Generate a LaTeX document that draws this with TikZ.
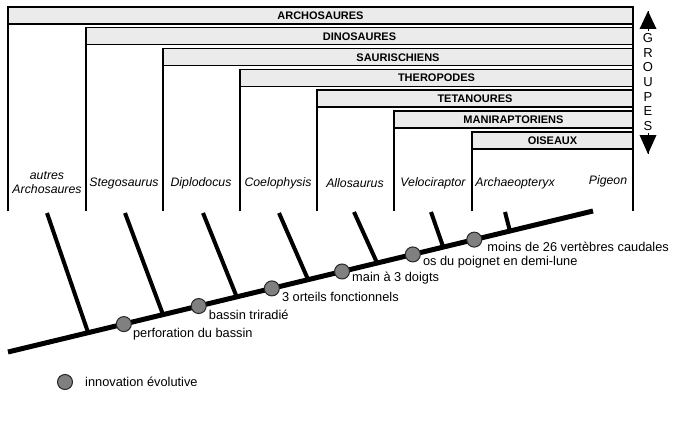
\documentclass[tikz,border=0pt]{standalone}
\usepackage{fontspec}
\setmainfont{Liberation Sans}
\usetikzlibrary{calc}
\definecolor{barfill}{HTML}{EBEBEB}
\definecolor{innovgray}{HTML}{808080}
\begin{document}
\begin{tikzpicture}[x=1pt,y=-1pt,
  grp/.style={line width=1.4pt},
  bar/.style={fill=barfill,draw=black,line width=1.4pt},
  barlabel/.style={font=\fontsize{11}{12}\selectfont\bfseries,inner sep=0pt},
  taxon/.style={font=\fontsize{12.3}{14}\selectfont\itshape,inner sep=0pt,align=center},
  trunk/.style={line width=5pt},
  branch/.style={line width=4pt},
  innov/.style={circle,fill=innovgray,draw=black!85,line width=1pt,minimum size=15pt,inner sep=0pt},
  note/.style={font=\fontsize{12.8}{14}\selectfont,anchor=west,inner sep=0pt},
  grpletter/.style={font=\fontsize{13}{14}\selectfont,fill=white,inner xsep=1pt,inner ysep=0pt,minimum height=14.6pt}]
\useasboundingbox (0,0) rectangle (698,425);
\fill[white] (0,0) rectangle (698,425);

% groups: left x, top y, label
\foreach \L/\T/\lab/\nm in {8/7/ARCHOSAURES/archo, 86/27.8/DINOSAURES/dino, 163/48.6/SAURISCHIENS/sauri, 240/69.4/THEROPODES/thero, 317/90.2/TETANOURES/tetan, 394/111/MANIRAPTORIENS/mani, 472/131.8/OISEAUX/ois}{
  \draw[grp] (\L,211) -- (\L,\T) -- (633,\T) -- (633,211);
  \draw[bar] (\L,\T) rectangle (633,\T+17);
  \node[barlabel] (\nm) at ({(\L+633)/2},\T+8.8) {\lab};
}

% taxa
\node[taxon] (autres) at (47,183) {autres\\Archosaures};
\node[taxon] (stego) at (124,183) {Stegosaurus};
\node[taxon] (diplo) at (201,183) {Diplodocus};
\node[taxon] (coelo) at (278,183) {Coelophysis};
\node[taxon] (allo) at (355,183) {Allosaurus};
\node[taxon] (veloc) at (433,183) {Velociraptor};
\node[taxon] (archae) at (515,183) {Archaeopteryx};
\node[taxon] (pigeon) at (608,181) {Pigeon};

% GROUPES arrow
\coordinate (gtop) at (648,11);
\coordinate (gbot) at (648,154);
\draw[line width=1pt] (gtop) -- (gbot);
\fill (gtop) -- ++(8.5,18) -- ++(-17,0) -- cycle;
\fill (gbot) -- ++(8.5,-19) -- ++(-17,0) -- cycle;
\foreach \ch/\yy in {G/38,R/52.7,O/67.4,U/82,P/96.7,E/111.4,S/126}{
  \node[grpletter] (g\ch) at (648,\yy) {\ch};
}

% tree
\coordinate (root) at (8,352);
\coordinate (tip) at (593,211);
\draw[trunk] (root) -- (tip);
\foreach \tx/\ty/\t/\nm in {47/213/0.137/b1, 125/213/0.265/b2, 203/213/0.391/b3, 279/213/0.513/b4, 354/212/0.631/b5, 431/212/0.744/b6, 505/212/0.858/b7}{
  \coordinate (\nm top) at (\tx,\ty);
  \coordinate (\nm base) at ($(root)!\t!(tip)$);
  \draw[branch] (\nm top) -- (\nm base);
}

% innovations
\node[innov] (c1) at ($(root)!0.198!(tip)$) {};
\node[innov] (c2) at ($(root)!0.326!(tip)$) {};
\node[innov] (c3) at ($(root)!0.451!(tip)$) {};
\node[innov] (c4) at ($(root)!0.571!(tip)$) {};
\node[innov] (c5) at ($(root)!0.692!(tip)$) {};
\node[innov] (c6) at ($(root)!0.797!(tip)$) {};

\node[note] (n1) at ($(c1)+(9,10)$) {perforation du bassin};
\node[note] (n2) at ($(c2)+(10,9)$) {bassin triradié};
\node[note] (n3) at ($(c3)+(10,9)$) {3 orteils fonctionnels};
\node[note] (n4) at ($(c4)+(10,7)$) {main à 3 doigts};
\node[note] (n5) at ($(c5)+(10,8)$) {os du poignet en demi-lune};
\node[note] (n6) at ($(c6)+(13,7)$) {moins de 26 vertèbres caudales};

% legend
\node[innov] (leg) at (65,382) {};
\node[note] (legtxt) at (85,382) {innovation évolutive};
\end{tikzpicture}
\end{document}
